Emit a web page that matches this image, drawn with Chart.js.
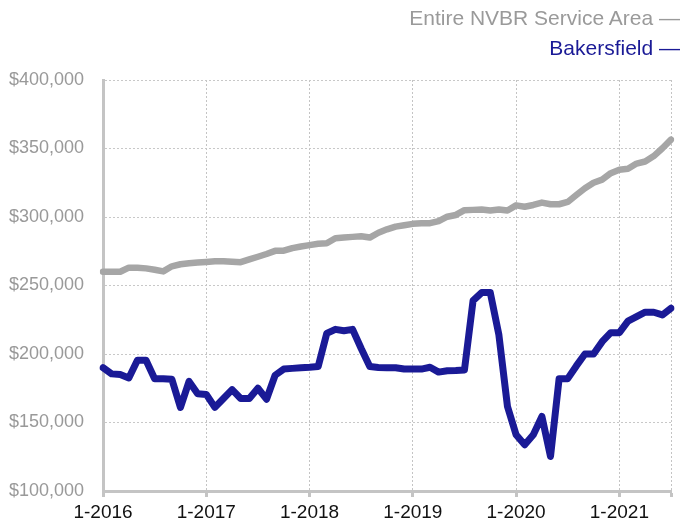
<!DOCTYPE html>
<html>
<head>
<meta charset="utf-8">
<script src="https://cdn.jsdelivr.net/npm/chart.js@4/dist/chart.umd.min.js"></script>
<style>
  html, body { margin: 0; padding: 0; background: #fff; }
  #wrap { position: relative; width: 689px; height: 525px; overflow: hidden; }
  canvas { position: absolute; left: 0; top: 0; }
  .leg { position: absolute; right: 9px; font-family: "Liberation Sans", Arial, sans-serif; font-size: 21px; white-space: nowrap; line-height: 1; }
</style>
</head>
<body>
<div id="wrap">
  <canvas id="c" width="689" height="525"></canvas>
  <div class="leg" id="leg1" style="top:7px;color:#9a9a9a;">Entire NVBR Service Area —</div>
  <div class="leg" id="leg2" style="top:37px;color:#1a1a96;">Bakersfield —</div>
</div>
<script>
// Categories: monthly, Jan 2016 .. Jul 2021
const months = [];
for (let y = 2016; y <= 2021; y++) {
  for (let m = 1; m <= 12; m++) {
    if (y === 2021 && m > 7) break;
    months.push(m + '-' + y);
  }
}
const yTicks = [100000, 150000, 200000, 250000, 300000, 350000, 400000];

const nvbr = [
  260000, 260000, 260000, 263000, 263000, 262500, 261500, 260300, 264000, 265500, 266300, 266800,
  267200, 267700, 267700, 267300, 267000, 269000, 271000, 273000, 275300, 275400, 277300, 278500,
  279500, 280500, 280800, 284500, 285000, 285500, 286000, 285000, 288500, 291000, 293000, 294000,
  295000, 295500, 295500, 297000, 300200, 301500, 305000, 305200, 305500, 304800, 305500, 304700,
  308500, 307500, 308800, 310500, 309300, 309300, 311000, 316000, 321000, 325000, 327300, 332000,
  334500, 335200, 339000, 340500, 344500, 350200, 356500
];
const bakersfield = [
  190000, 185500, 185000, 182500, 195500, 195500, 182000, 182000, 181500, 161000, 180000, 171000,
  170500, 161000, 167500, 174000, 167500, 167500, 175000, 167000, 184500, 189000, 189500, 190000,
  190300, 190800, 215000, 218000, 217000, 218000, 204000, 190800, 190200, 190000, 190000, 189000,
  189000, 189000, 190300, 186800, 187800, 188000, 188400, 239000, 244800, 244800, 214000, 161700,
  141000, 133700, 141000, 154400, 125200, 182000, 182000, 191300, 200000, 200000, 209000, 215600,
  215600, 224000, 227300, 230500, 230500, 228500, 233400
];

const isYear = (i) => months[i] && months[i].startsWith('1-');
const lastIdx = months.length - 1;

new Chart(document.getElementById('c'), {
  type: 'line',
  data: {
    labels: months,
    datasets: [
      { label: 'Entire NVBR Service Area', data: nvbr, borderColor: '#a6a6a6', borderWidth: 6.5,
        pointRadius: 0, tension: 0, fill: false, borderJoinStyle: 'round', borderCapStyle: 'round' },
      { label: 'Bakersfield', data: bakersfield, borderColor: '#1a1a96', borderWidth: 7,
        pointRadius: 0, tension: 0, fill: false, borderJoinStyle: 'round', borderCapStyle: 'round' }
    ]
  },
  options: {
    responsive: false,
    animation: false,
    layout: { padding: { top: 80, right: 18, left: 0, bottom: 0 } },
    plugins: { legend: { display: false }, tooltip: { enabled: false }, title: { display: false } },
    scales: {
      x: {
        type: 'category',
        offset: false,
        grid: {
          display: true,
          drawOnChartArea: true,
          drawTicks: true,
          tickLength: 6,
          tickWidth: 3,
          lineWidth: 1,
          color: (ctx) => (isYear(ctx.index) || ctx.index === lastIdx) ? '#c4c4c4' : 'rgba(0,0,0,0)',
          tickColor: (ctx) => (isYear(ctx.index) || ctx.index === lastIdx) ? '#c4c4c4' : 'rgba(0,0,0,0)'
        },
        border: { display: true, color: '#c4c4c4', width: 3, dash: [2, 2] },
        ticks: {
          autoSkip: false,
          maxRotation: 0,
          minRotation: 0,
          padding: 4,
          color: '#111',
          font: { family: 'Liberation Sans', size: 19 },
          callback: function (val, i) { return isYear(i) ? months[i] : ''; }
        },
        afterFit: (s) => { s.height = 34; }
      },
      y: {
        min: 100000,
        max: 400000,
        afterBuildTicks: (s) => { s.ticks = yTicks.map(v => ({ value: v })); },
        grid: { display: true, drawTicks: false, color: '#c8c8c8', lineWidth: 1 },
        border: { display: true, color: '#c4c4c4', width: 3, dash: [2, 2] },
        ticks: {
          padding: 19,
          color: '#999999',
          font: { family: 'Liberation Sans', size: 18 },
          callback: (v) => '$' + Number(v).toLocaleString('en-US')
        },
        afterFit: (s) => { s.width = 103; }
      }
    }
  }
});
</script>
</body>
</html>
